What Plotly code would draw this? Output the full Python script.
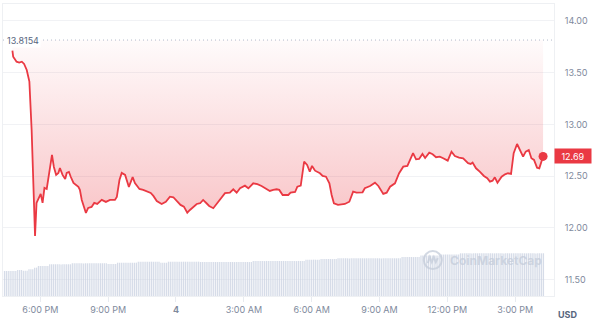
import pandas as pd
import plotly.graph_objects as go

# ---------------- data ----------------
base_time = "2024-01-03 18:00"          # 6:00 PM, day before "4"
open_price = 13.8154
last_price_label = "12.69"

# minutes relative to 6:00 PM
price_minutes = [-74, -72, -63, -56, -49, -43, -36, -29, -23, -19, -14, -10, -5, 1, 6, 11, 17, 24, 31,
                 36, 42, 48, 52, 59, 66, 70, 76, 81, 88, 101, 105, 110, 116, 121, 127, 136, 143, 151,
                 163, 174, 185, 198, 203, 210, 216, 225, 235, 245, 251, 263, 273, 284, 293, 300, 309,
                 322, 333, 344, 353, 362, 372, 381, 390, 397, 406, 415, 424, 432, 441, 448, 459, 466,
                 477, 490, 503, 512, 521, 530, 543, 552, 565, 576, 587, 601, 609, 618, 627, 634, 643,
                 658, 664, 676, 682, 691, 700, 708, 715, 721, 729, 742, 749, 758, 767, 773, 779, 790,
                 797, 808, 820, 830, 839, 855, 861, 875, 888, 897, 910, 919, 928, 941, 952, 963, 974,
                 983, 989, 997, 1005, 1014, 1021, 1032, 1041, 1050, 1060, 1069, 1081, 1091, 1100, 1111,
                 1122, 1135, 1142, 1147, 1156, 1166, 1177, 1186, 1193, 1200, 1206, 1213, 1224, 1233,
                 1241, 1249, 1256, 1265, 1272, 1281, 1288, 1296, 1303, 1310, 1318, 1324, 1334]

price_values = [13.713, 13.655, 13.606, 13.597, 13.606, 13.584, 13.526, 13.413, 12.946, 12.433, 11.921,
                12.240, 12.288, 12.327, 12.240, 12.385, 12.375, 12.559, 12.704, 12.588, 12.511, 12.530,
                12.578, 12.511, 12.472, 12.530, 12.540, 12.491, 12.433, 12.395, 12.366, 12.269, 12.192,
                12.143, 12.192, 12.201, 12.240, 12.230, 12.269, 12.250, 12.269, 12.269, 12.298, 12.462,
                12.530, 12.511, 12.395, 12.491, 12.433, 12.375, 12.366, 12.349, 12.337, 12.308, 12.259,
                12.230, 12.252, 12.301, 12.295, 12.259, 12.221, 12.204, 12.146, 12.172, 12.204, 12.230,
                12.237, 12.269, 12.237, 12.211, 12.189, 12.221, 12.276, 12.334, 12.339, 12.372, 12.339,
                12.382, 12.407, 12.382, 12.430, 12.421, 12.404, 12.372, 12.356, 12.366, 12.372, 12.366,
                12.317, 12.317, 12.339, 12.346, 12.397, 12.407, 12.639, 12.607, 12.543, 12.598, 12.552,
                12.527, 12.501, 12.494, 12.430, 12.317, 12.237, 12.221, 12.227, 12.230, 12.252, 12.349,
                12.339, 12.343, 12.382, 12.404, 12.436, 12.404, 12.327, 12.339, 12.397, 12.430, 12.527,
                12.591, 12.598, 12.672, 12.721, 12.662, 12.665, 12.714, 12.675, 12.726, 12.711, 12.682,
                12.688, 12.672, 12.649, 12.736, 12.694, 12.678, 12.672, 12.624, 12.617, 12.630, 12.575,
                12.543, 12.501, 12.479, 12.446, 12.455, 12.488, 12.436, 12.494, 12.517, 12.527, 12.520,
                12.721, 12.810, 12.752, 12.688, 12.736, 12.752, 12.672, 12.656, 12.581, 12.575, 12.690]

# volume bars, one every 5 minutes starting 95 minutes before 6:00 PM
volume_start_minute = -95
volume_values = [
    8.56, 8.52, 8.58, 8.55, 8.57, 8.54, 8.56, 8.90, 8.88, 8.91, 8.66, 8.64, 8.67, 9.14, 9.12, 9.16,
    9.69, 9.72, 10.27, 10.25, 10.28, 10.26, 10.29, 10.27,
    10.86, 10.84, 10.87, 10.85, 10.88, 10.86, 10.83, 10.87, 10.86, 10.85, 10.88, 10.86,
    11.20, 11.18, 11.21, 11.19, 11.22, 11.20, 11.17, 11.21, 11.20, 11.19, 11.22, 11.20, 11.18, 11.21,
    11.20, 11.19, 11.21, 11.20, 11.18,
    10.96, 10.94, 10.97, 10.95, 10.96,
    11.40, 11.38, 11.41, 11.39, 11.42, 11.40, 11.37, 11.41, 11.40, 11.39, 11.41,
    11.75, 11.73, 11.76, 11.74, 11.77, 11.75, 11.72, 11.76, 11.75, 11.74, 11.76, 11.75,
    11.40, 11.38, 11.41, 11.39,
    11.75, 11.73, 11.76, 11.74, 11.77, 11.75, 11.72, 11.76, 11.75, 11.74, 11.76, 11.75, 11.73, 11.77,
    11.75, 11.74, 11.76,
    11.64, 11.62, 11.65, 11.63, 11.66, 11.64, 11.61, 11.65, 11.64, 11.63, 11.65, 11.64, 11.62, 11.66,
    11.64, 11.63, 11.65, 11.64, 11.62, 11.65, 11.63, 11.66, 11.64, 11.61, 11.65, 11.64, 11.63, 11.65,
    11.99, 11.97, 12.00, 11.98, 12.01, 11.99, 11.96, 12.00, 11.99, 11.98, 12.00, 11.99, 11.97, 12.01,
    11.99, 11.98, 12.00, 11.99, 11.97, 12.00, 11.98, 12.01, 11.99, 11.96, 12.00, 11.99, 11.98, 12.00,
    12.43, 12.41, 12.44, 12.42, 12.45, 12.43, 12.40, 12.44,
    12.67, 12.65, 12.68, 12.66, 12.69, 12.67, 12.64, 12.68, 12.67,
    12.91, 12.89, 12.92, 12.90, 12.93, 12.91, 12.88, 12.92, 12.91, 12.90, 12.92, 12.91, 12.89, 12.93,
    12.91, 12.90, 12.92, 12.91, 12.89, 12.92, 12.90, 12.93, 12.91, 12.88, 12.92, 12.91, 12.90, 12.92,
    12.91, 12.89, 12.93, 12.91, 12.90, 12.92,
    13.36, 13.34, 13.37, 13.35, 13.38, 13.36, 13.33, 13.37, 13.36, 13.35,
    13.87, 13.85, 13.88, 13.86, 13.89, 13.87, 13.84, 13.88, 13.87, 13.86, 13.88,
    14.21, 14.19, 14.22, 14.20, 14.23, 14.21, 14.18, 14.22, 14.21, 14.20,
    14.62, 14.60, 14.63, 14.61, 14.64, 14.62, 14.59, 14.63, 14.62, 14.61, 14.63, 14.62, 14.60, 14.64,
    14.62, 14.61, 14.63, 14.62, 14.60, 14.63, 14.61, 14.64, 14.62, 14.59, 14.63, 14.62, 14.61, 14.63,
    14.62, 14.60, 14.64, 14.62, 14.61, 14.63, 14.62, 14.60, 14.63, 14.61, 14.64, 14.62, 14.59, 14.63,
    14.62, 14.61, 14.63]

y_tick_values = [11.5, 12.0, 12.5, 13.0, 13.5, 14.0]
x_tick_hours = [0, 3, 6, 9, 12, 15, 18, 21]
x_tick_labels = ["6:00 PM", "9:00 PM", "<b>4</b>", "3:00 AM", "6:00 AM", "9:00 AM", "12:00 PM", "3:00 PM"]

# ---------------- build ----------------
base = pd.Timestamp(base_time)
t_price = base + pd.to_timedelta(price_minutes, unit="min")
t_volume = pd.date_range(base + pd.Timedelta(minutes=volume_start_minute),
                         periods=len(volume_values), freq="5min")
x_ticks = [base + pd.Timedelta(hours=h) for h in x_tick_hours]
x_range = [base + pd.Timedelta(minutes=-99), base + pd.Timedelta(minutes=1363)]

RED = "#ea3943"
FONT = "Inter"

fig = go.Figure()

fig.add_trace(go.Bar(
    x=t_volume, y=volume_values, yaxis="y2",
    marker=dict(color="rgba(200,208,224,0.75)", line=dict(width=0)),
    hoverinfo="skip"))

fig.add_trace(go.Scatter(
    x=[t_price[0], t_price[-1]], y=[open_price, open_price],
    mode="lines", line=dict(width=0, color="rgba(0,0,0,0)"), hoverinfo="skip"))

fig.add_trace(go.Scatter(
    x=t_price, y=price_values, mode="lines",
    line=dict(color=RED, width=1.8),
    fill="tonexty",
    fillgradient=dict(type="vertical",
                      colorscale=[[0, "rgba(234,57,67,0.32)"], [1, "rgba(234,57,67,0.02)"]])))

fig.add_trace(go.Scatter(
    x=[t_price[-1]], y=[price_values[-1]], mode="markers",
    marker=dict(size=9, color=RED)))

fig.add_shape(type="line", xref="paper", yref="y", x0=0, x1=1, y0=open_price, y1=open_price,
              line=dict(color="#b3bbca", width=1, dash="1px,3px"))

# watermark logo
fig.add_shape(type="circle", xref="paper", yref="paper", xsizemode="pixel", ysizemode="pixel",
              xanchor=0.780, yanchor=0.123, x0=-9, x1=9, y0=-9, y1=9,
              line=dict(color="rgba(196,204,218,0.75)", width=2))
fig.add_shape(type="path", xref="paper", yref="paper", xsizemode="pixel", ysizemode="pixel",
              xanchor=0.780, yanchor=0.123,
              path="M -5,-3 L -3,3 L -1,-2 L 1,3 L 3,-2 L 5,2",
              line=dict(color="rgba(196,204,218,0.75)", width=2))

fig.add_annotation(x=0.8076, y=0.123, xref="paper", yref="paper", xanchor="left", yanchor="middle",
                   text="<b>CoinMarketCap</b>", showarrow=False,
                   font=dict(family=FONT, size=12, color="rgba(196,204,218,0.75)"))

fig.add_annotation(x=0, y=open_price, xref="paper", yref="y", xanchor="left", yanchor="middle",
                   xshift=2, text="13.8154", showarrow=False, bgcolor="white", borderpad=1,
                   font=dict(family=FONT, size=9, color="#58667e"))

fig.add_annotation(x=1, y=12.69, xref="paper", yref="y", xanchor="left", yanchor="middle",
                   text=last_price_label, showarrow=False, bgcolor=RED, width=36, height=14,
                   borderpad=0, font=dict(family=FONT, size=9, color="white"))

fig.add_annotation(x=1.0254, y=-0.062, xref="paper", yref="paper", xanchor="center", yanchor="middle",
                   text="<b>USD</b>", showarrow=False,
                   font=dict(family=FONT, size=9, color="#58667e"))

fig.update_layout(
    width=600, height=331,
    margin=dict(l=3, r=46, t=4, b=35),
    paper_bgcolor="white", plot_bgcolor="white",
    showlegend=False, bargap=0.35,
    font=dict(family=FONT),
    xaxis=dict(type="date", range=x_range, tickvals=x_ticks, ticktext=x_tick_labels,
               showgrid=False, zeroline=False, ticks="outside", ticklen=5, tickcolor="#e8ebf0",
               showline=True, linecolor="#eef0f3", mirror=True,
               tickfont=dict(family=FONT, size=9, color="#808a9d")),
    yaxis=dict(side="right", range=[11.34, 14.164], tickvals=y_tick_values, tickformat=".2f",
               showgrid=True, gridcolor="#f1f2f5", zeroline=False,
               showline=True, linecolor="#eef0f3", mirror=True, ticks="",
               ticklabelstandoff=8,
               tickfont=dict(family=FONT, size=9, color="#808a9d")),
    yaxis2=dict(overlaying="y", range=[0, 100], visible=False),
)

fig.write_html("out.html")
